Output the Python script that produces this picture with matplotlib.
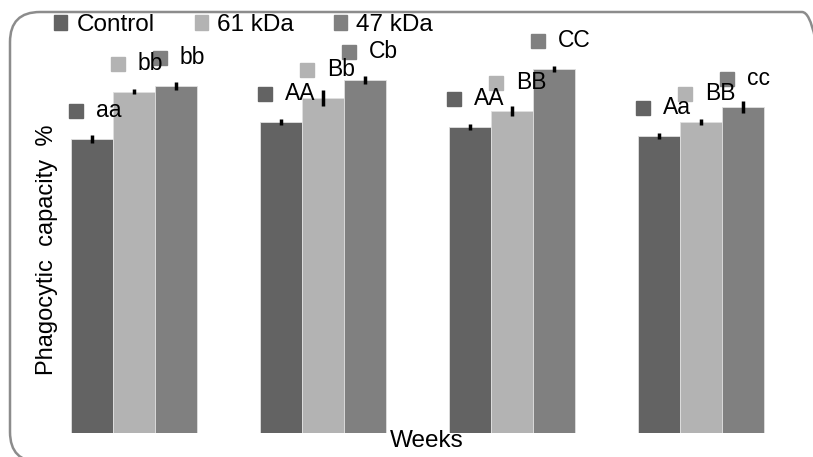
import numpy as np
import matplotlib.pyplot as plt
from matplotlib.patches import Patch, FancyBboxPatch
from matplotlib.transforms import offset_copy

plt.rcParams['font.family'] = ['Liberation Sans', 'DejaVu Sans']

series = ['Control', '61 kDa', '47 kDa']
colors = ['#636363', '#b3b3b3', '#808080']
weeks = ['1', '2', '3', '4']

# phagocytic capacity per week, one list per series
control = [29.4, 31.1, 30.6, 29.7]
kda61 = [34.1, 33.5, 32.2, 31.1]
kda47 = [34.7, 35.3, 36.4, 32.6]
values = [control, kda61, kda47]

err_control = [0.4, 0.3, 0.3, 0.3]
err_61 = [0.25, 0.8, 0.5, 0.3]
err_47 = [0.4, 0.4, 0.3, 0.6]
errors = [err_control, err_61, err_47]

letters_control = ['aa', 'AA', 'AA', 'Aa']
letters_61 = ['bb', 'Bb', 'BB', 'BB']
letters_47 = ['bb', 'Cb', 'CC', 'cc']
letters = [letters_control, letters_61, letters_47]

W, H = 813, 457
fig = plt.figure(figsize=(W / 100, H / 100), dpi=100)

# rounded frame around the chart
frame = FancyBboxPatch((0.10, -0.05), 8.22, 4.50,
                       boxstyle='round,pad=0,rounding_size=0.3',
                       transform=fig.dpi_scale_trans, fill=False,
                       edgecolor='#8c8c8c', linewidth=1.8)
fig.patches.append(frame)

ax = fig.add_axes([0, 24 / H, 1, 423 / H])
spacing = 189
first = 134
ax.set_xlim((0 - first) / spacing, (W - first) / spacing)
ax.set_ylim(0, 42.3)
ax.axis('off')

w = 42 / spacing
x = np.arange(len(weeks))
sq_tr = offset_copy(ax.transData, fig=fig, x=5, y=28, units='dots')
tx_tr = offset_copy(ax.transData, fig=fig, x=25, y=28, units='dots')
for j in range(3):
    xs = x + (j - 1) * w
    ax.bar(xs, values[j], width=w, color=colors[j], edgecolor='#e0e0e0',
           linewidth=0.6)
    ax.errorbar(xs, values[j], yerr=errors[j], fmt='none', ecolor='black',
                elinewidth=2.5, capsize=0)
    for k in range(len(weeks)):
        left = xs[k] - w / 2
        ax.plot([left], [values[j][k]], marker='s', ms=10, color=colors[j],
                transform=sq_tr, clip_on=False)
        ax.text(left, values[j][k], letters[j][k], transform=tx_tr,
                fontsize=16.5, ha='left', va='center')

handles = [Patch(color=c) for c in colors]
fig.legend(handles, series, loc='center left', bbox_to_anchor=(54 / W, 1 - 25 / H),
           ncol=3, frameon=False, fontsize=17.5, handlelength=0.55,
           handleheight=0.55, handletextpad=0.37, columnspacing=1.65,
           borderpad=0, borderaxespad=0)

fig.text(47 / W, 1 - 250 / H, 'Phagocytic  capacity  %', rotation=90,
         fontsize=17, ha='center', va='center')
fig.text(427 / W, 1 - 441 / H, 'Weeks', fontsize=17.5, ha='center', va='center')

fig.savefig('out.png', dpi=100)
